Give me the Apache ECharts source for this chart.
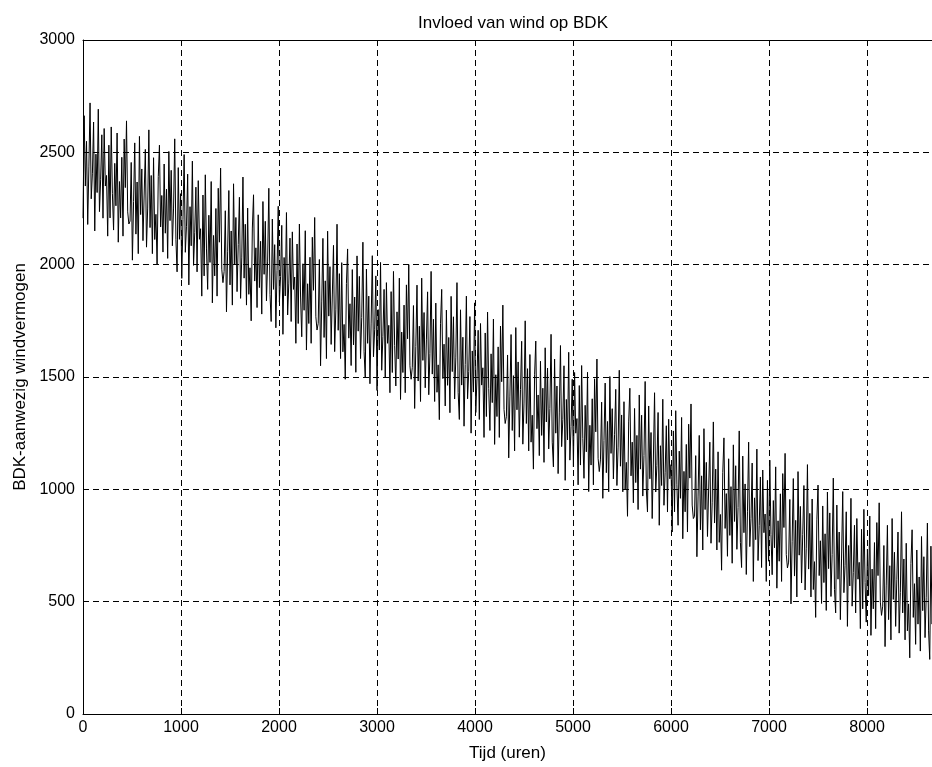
<!DOCTYPE html>
<html>
<head>
<meta charset="utf-8">
<script src="https://cdn.jsdelivr.net/npm/echarts@6/dist/echarts.min.js"></script>
<style>
html,body{margin:0;padding:0;background:#fff;}
#chart{width:932px;height:767px;}
</style>
</head>
<body>
<div id="chart"></div>
<script>
// Chart texts
const titleText = "Invloed van wind op BDK";
const xAxisName = "Tijd (uren)";
const yAxisName = "BDK-aanwezig windvermogen";

// Sampling step of the series (hours) and visible axis ranges
const stepHours = 12;
const xMin = 0;
const xMax = 8663;   // the picture is cut off at the right edge
const xStep = 1000;
const yMin = 0;
const yMax = 3000;
const yStep = 500;

// BDK values, one reading every 12 hours
const bdkValues = [
  2207, 2663, 2350, 2549, 2179, 2435, 2720, 2293, 2407, 2635, 2150, 2492, 2321, 2692, 2236, 2378, 2578, 2207, 2606, 2350,
  2397, 2127, 2532, 2208, 2613, 2316, 2154, 2451, 2262, 2586, 2100, 2370, 2208, 2478, 2127, 2559, 2343, 2640, 2235, 2181,
  2194, 2455, 2020, 2281, 2542, 2136, 2368, 2049, 2571, 2223, 2426, 2107, 2310, 2513, 2078, 2252, 2600, 2165, 2397, 2049,
  2476, 2112, 2224, 2000, 2392, 2532, 2168, 2308, 2056, 2448, 2140, 2336, 2028, 2504, 2196, 2420, 2084, 2252, 2560, 2112,
  1968, 2432, 2113, 2316, 1939, 2200, 2490, 2055, 2171, 2403, 1910, 2258, 2084, 2461, 1997, 2142, 2345, 1968, 2374, 2113,
  2160, 1860, 2310, 1950, 2400, 2070, 1890, 2220, 2010, 2370, 1830, 2130, 1950, 2250, 1860, 2340, 2100, 2430, 1980, 1920,
  1970, 2240, 1790, 2060, 2330, 1910, 2150, 1820, 2360, 2000, 2210, 1880, 2090, 2300, 1850, 2030, 2390, 1940, 2180, 1820,
  2252, 1868, 1986, 1750, 2163, 2311, 1927, 2075, 1809, 2222, 1898, 2104, 1780, 2281, 1957, 2193, 1839, 2016, 2340, 1868,
  1747, 2203, 1890, 2089, 1719, 1975, 2260, 1833, 1947, 2175, 1690, 2032, 1861, 2232, 1776, 1918, 2118, 1747, 2146, 1890,
  1945, 1650, 2092, 1738, 2181, 1856, 1679, 2004, 1797, 2151, 1620, 1915, 1738, 2033, 1650, 2122, 1886, 2210, 1768, 1709,
  1739, 2023, 1550, 1834, 2117, 1676, 1928, 1582, 2149, 1771, 1991, 1645, 1865, 2086, 1613, 1802, 2180, 1708, 1960, 1582,
  2009, 1612, 1734, 1490, 1917, 2070, 1673, 1826, 1551, 1978, 1643, 1856, 1521, 2039, 1704, 1948, 1582, 1765, 2100, 1612,
  1500, 1980, 1650, 1860, 1470, 1740, 2040, 1590, 1710, 1950, 1440, 1800, 1620, 2010, 1530, 1680, 1890, 1500, 1920, 1650,
  1730, 1430, 1880, 1520, 1970, 1640, 1460, 1790, 1580, 1940, 1400, 1700, 1520, 1820, 1430, 1910, 1670, 2000, 1550, 1490,
  1543, 1818, 1360, 1635, 1909, 1482, 1726, 1391, 1940, 1574, 1787, 1452, 1665, 1879, 1421, 1604, 1970, 1513, 1757, 1391,
  1829, 1432, 1554, 1310, 1737, 1890, 1493, 1646, 1371, 1798, 1463, 1676, 1341, 1859, 1524, 1768, 1402, 1585, 1920, 1432,
  1311, 1799, 1464, 1677, 1281, 1555, 1860, 1403, 1525, 1769, 1250, 1616, 1433, 1830, 1342, 1494, 1708, 1311, 1738, 1464,
  1541, 1231, 1696, 1324, 1789, 1448, 1262, 1603, 1386, 1758, 1200, 1510, 1324, 1634, 1231, 1727, 1479, 1820, 1355, 1293,
  1323, 1598, 1140, 1415, 1689, 1262, 1506, 1171, 1720, 1354, 1567, 1232, 1445, 1659, 1201, 1384, 1750, 1293, 1537, 1171,
  1600, 1210, 1330, 1090, 1510, 1660, 1270, 1420, 1150, 1570, 1240, 1450, 1120, 1630, 1300, 1540, 1180, 1360, 1690, 1210,
  1100, 1580, 1250, 1460, 1070, 1340, 1640, 1190, 1310, 1550, 1040, 1400, 1220, 1610, 1130, 1280, 1490, 1100, 1520, 1250,
  1315, 1020, 1462, 1108, 1551, 1226, 1049, 1374, 1167, 1521, 990, 1285, 1108, 1403, 1020, 1492, 1256, 1580, 1138, 1079,
  1131, 1388, 960, 1217, 1473, 1074, 1302, 989, 1502, 1160, 1359, 1046, 1245, 1445, 1017, 1188, 1530, 1103, 1331, 989,
  1390, 1000, 1120, 880, 1300, 1450, 1060, 1210, 940, 1360, 1030, 1240, 910, 1420, 1090, 1330, 970, 1150, 1480, 1000,
  899, 1371, 1047, 1253, 870, 1135, 1430, 988, 1106, 1342, 840, 1194, 1017, 1401, 929, 1076, 1283, 899, 1312, 1047,
  1110, 810, 1260, 900, 1350, 1020, 840, 1170, 960, 1320, 780, 1080, 900, 1200, 810, 1290, 1050, 1380, 930, 870,
  880, 1150, 700, 970, 1240, 820, 1060, 730, 1270, 910, 1120, 790, 1000, 1210, 760, 940, 1300, 850, 1090, 730,
  1167, 764, 888, 640, 1074, 1229, 826, 981, 702, 1136, 795, 1012, 671, 1198, 857, 1105, 733, 919, 1260, 764,
  652, 1148, 807, 1024, 621, 900, 1210, 745, 869, 1117, 590, 962, 776, 1179, 683, 838, 1055, 652, 1086, 807,
  890, 590, 1040, 680, 1130, 800, 620, 950, 740, 1100, 560, 860, 680, 980, 590, 1070, 830, 1160, 710, 650,
  676, 955, 490, 769, 1048, 614, 862, 521, 1079, 707, 924, 583, 800, 1017, 552, 738, 1110, 645, 893, 521,
  957, 554, 678, 430, 864, 1019, 616, 771, 492, 926, 585, 802, 461, 988, 647, 895, 523, 709, 1050, 554,
  450, 930, 600, 810, 420, 690, 990, 540, 660, 900, 390, 750, 570, 960, 480, 630, 840, 450, 870, 600,
  675, 380, 822, 468, 911, 586, 409, 734, 527, 881, 350, 645, 468, 763, 380, 852, 616, 940, 498, 439,
  480, 750, 300, 570, 840, 420, 660, 330, 870, 510, 720, 390, 600, 810, 360, 540, 900, 450, 690, 330,
  760, 370, 490, 250, 670, 820, 430, 580, 310, 730, 400, 610, 280, 790, 460, 700, 340, 520, 850, 370,
  243, 747, 400, 621, 211, 495, 810, 338, 464, 716, 180
];

const seriesData = bdkValues.map((v, i) => [i * stepHours, v]);

const font = "'Liberation Sans', Arial, Helvetica, sans-serif";
const dashed = { color: '#000', width: 1, type: [6, 4] };
const plain = v => String(v);

const chart = echarts.init(document.getElementById('chart'), null, { renderer: 'canvas' });
chart.setOption({
  animation: false,
  backgroundColor: '#fff',
  title: {
    text: titleText,
    left: 508, top: 10, textAlign: 'center',
    textStyle: { fontFamily: font, fontSize: 17, fontWeight: 'normal', color: '#000' }
  },
  grid: { left: 83, top: 40, right: 0, height: 675, containLabel: false },
  xAxis: [
    {
      type: 'value', min: xMin, max: xMax, interval: xStep, position: 'bottom',
      name: xAxisName, nameLocation: 'middle', nameGap: 31,
      nameTextStyle: { fontFamily: font, fontSize: 17, color: '#000' },
      axisLine: { show: true, onZero: false, lineStyle: { color: '#000', width: 1 } },
      axisTick: { show: true, inside: true, length: 6, lineStyle: { color: '#000' } },
      axisLabel: { fontFamily: font, fontSize: 16, color: '#000', margin: 6, showMaxLabel: false, formatter: plain },
      splitLine: { show: true, lineStyle: dashed }
    },
    {
      type: 'value', min: xMin, max: xMax, interval: xStep, position: 'top',
      axisLine: { show: true, onZero: false, lineStyle: { color: '#000', width: 1 } },
      axisTick: { show: true, inside: true, length: 6, lineStyle: { color: '#000' } },
      axisLabel: { show: false },
      splitLine: { show: false }
    }
  ],
  yAxis: [
    {
      type: 'value', min: yMin, max: yMax, interval: yStep,
      name: yAxisName, nameLocation: 'middle', nameGap: 54, nameRotate: 90,
      nameTextStyle: { fontFamily: font, fontSize: 17, color: '#000' },
      axisLine: { show: true, onZero: false, lineStyle: { color: '#000', width: 1 } },
      axisTick: { show: true, inside: true, length: 6, lineStyle: { color: '#000' } },
      axisLabel: { fontFamily: font, fontSize: 16, color: '#000', margin: 8, formatter: plain },
      splitLine: { show: true, lineStyle: dashed }
    }
  ],
  series: [
    {
      type: 'line',
      xAxisIndex: 0, yAxisIndex: 0,
      data: seriesData,
      showSymbol: false, symbol: 'none',
      clip: true,
      lineStyle: { color: '#000', width: 1 },
      silent: true
    }
  ]
});
</script>
</body>
</html>
